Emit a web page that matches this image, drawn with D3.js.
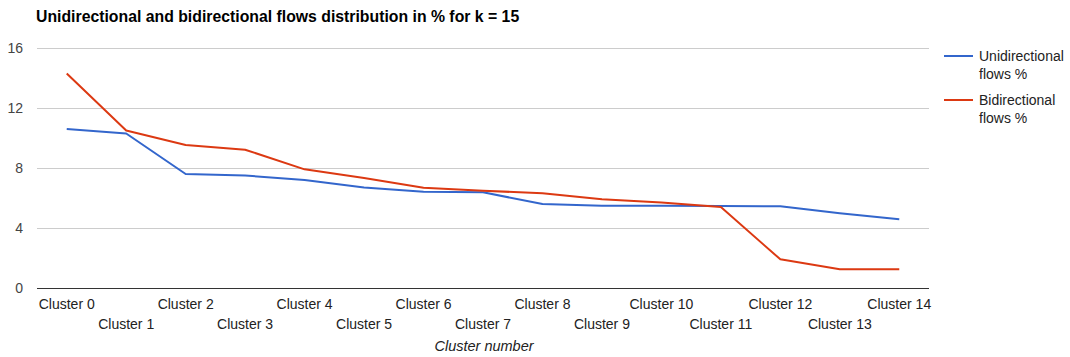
<!DOCTYPE html>
<html>
<head>
<meta charset="utf-8">
<script src="https://cdn.jsdelivr.net/npm/d3@7/dist/d3.min.js"></script>
<style>
  body { margin: 0; background: #fff; }
  svg { display: block; font-family: "Liberation Sans", Arial, sans-serif; }
</style>
</head>
<body>
<svg id="chart" width="1070" height="357"></svg>
<script>
const categories = ["Cluster 0","Cluster 1","Cluster 2","Cluster 3","Cluster 4","Cluster 5","Cluster 6","Cluster 7","Cluster 8","Cluster 9","Cluster 10","Cluster 11","Cluster 12","Cluster 13","Cluster 14"];
const unidirectional = [10.6, 10.3, 7.6, 7.5, 7.2, 6.7, 6.42, 6.38, 5.6, 5.49, 5.49, 5.47, 5.45, 4.98, 4.58];
const bidirectional = [14.3, 10.5, 9.53, 9.22, 7.91, 7.33, 6.69, 6.49, 6.31, 5.91, 5.7, 5.4, 1.91, 1.25, 1.25];
const yTicks = [0, 4, 8, 12, 16];
const seriesNames = ["Unidirectional flows %", "Bidirectional flows %"];
const seriesColors = ["#3366cc", "#dc3912"];

const svg = d3.select("#chart");
const area = { left: 37, right: 929, top: 48, bottom: 288 };

const x = d3.scaleBand().domain(categories).range([area.left, area.right]);
const y = d3.scaleLinear().domain([0, 16]).range([area.bottom, area.top]);
const cx = d => x(d) + x.bandwidth() / 2;

// title
const title = svg.append("text")
  .attr("x", 36).attr("y", 22)
  .attr("font-size", 15.8).attr("font-weight", "bold").attr("fill", "#000")
  .text("Unidirectional and bidirectional flows distribution in % for k = 15");

// gridlines
svg.append("g").selectAll("line").data(yTicks.filter(t => t !== 0)).join("line")
  .attr("x1", area.left).attr("x2", area.right)
  .attr("y1", d => y(d) + 0.5).attr("y2", d => y(d) + 0.5)
  .attr("stroke", "#cccccc").attr("stroke-width", 1);

// y axis labels
const yAxis = d3.axisLeft(y).tickValues(yTicks).tickSize(0).tickPadding(0);
const yg = svg.append("g").attr("transform", `translate(23,0)`).call(yAxis);
yg.select(".domain").remove();
yg.selectAll("text").attr("font-size", 14).attr("fill", "#444").attr("font-family", "Liberation Sans, Arial, sans-serif").attr("dy", "0.35em");

// series lines
const line = d3.line().x((d, i) => cx(categories[i])).y(d => y(d));
[unidirectional, bidirectional].forEach((vals, k) => {
  svg.append("path").datum(vals)
    .attr("d", line)
    .attr("fill", "none")
    .attr("stroke", seriesColors[k])
    .attr("stroke-width", 2)
    .attr("stroke-linejoin", "round");
});

// baseline
svg.append("line")
  .attr("x1", area.left).attr("x2", area.right)
  .attr("y1", y(0) + 0.5).attr("y2", y(0) + 0.5)
  .attr("stroke", "#333").attr("stroke-width", 1);

// x axis labels, staggered in two rows
const xAxis = d3.axisBottom(x).tickSize(0).tickPadding(0);
const xg = svg.append("g").call(xAxis);
xg.select(".domain").remove();
xg.selectAll(".tick").attr("transform", d => `translate(${cx(d)},0)`);
xg.selectAll("text")
  .attr("font-size", 14).attr("fill", "#222").attr("font-family", "Liberation Sans, Arial, sans-serif")
  .attr("dy", null)
  .attr("y", d => categories.indexOf(d) % 2 === 0 ? 309 : 329);

// x axis title
svg.append("text")
  .attr("x", (area.left + area.right) / 2 + 1).attr("y", 351)
  .attr("text-anchor", "middle")
  .attr("font-size", 14.5).attr("font-style", "italic").attr("fill", "#222")
  .text("Cluster number");

// legend
const legend = svg.append("g");
const legendRows = [["Unidirectional", "flows %"], ["Bidirectional", "flows %"]];
legendRows.forEach((rows, k) => {
  const top = 56 + k * 44;
  legend.append("line")
    .attr("x1", 944).attr("x2", 973)
    .attr("y1", top).attr("y2", top)
    .attr("stroke", seriesColors[k]).attr("stroke-width", 2);
  const t = legend.append("text").attr("font-size", 14).attr("fill", "#222");
  rows.forEach((r, j) => {
    t.append("tspan").attr("x", 979).attr("y", top + 5 + j * 18).text(r);
  });
});
</script>
</body>
</html>
